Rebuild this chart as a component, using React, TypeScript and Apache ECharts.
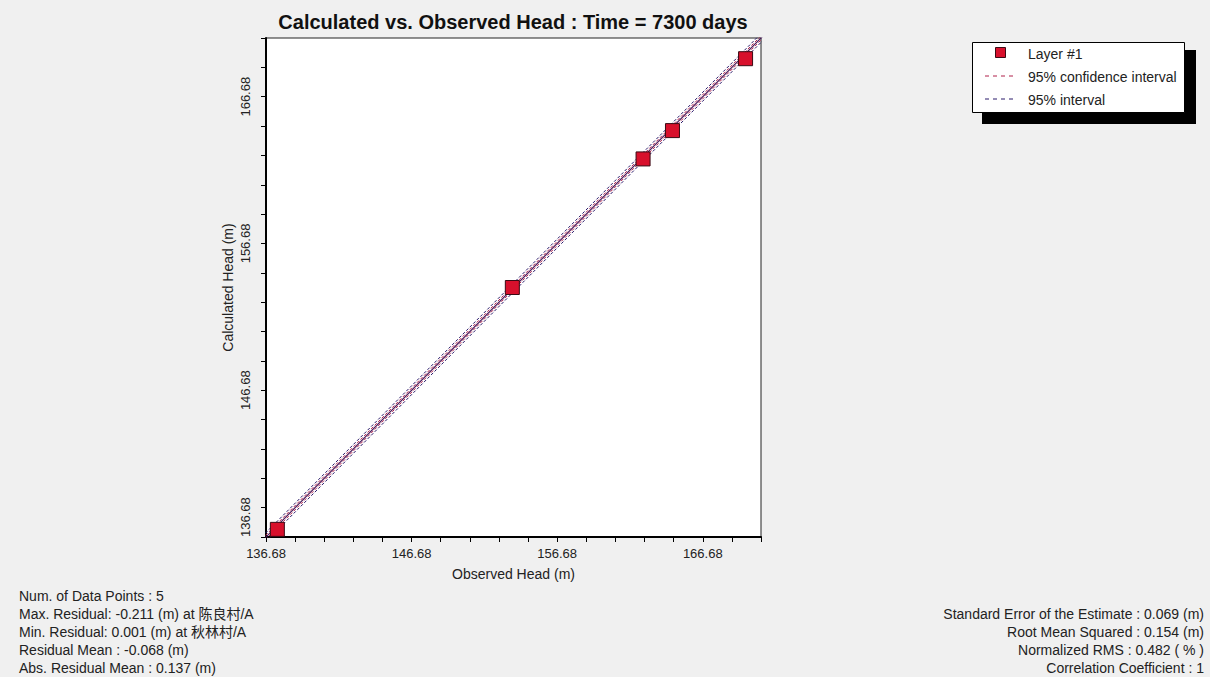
import React, { useEffect, useRef } from "react";
import * as echarts from "echarts";

// ---- data ----
const OBSERVED = [137.46, 153.6, 162.58, 164.6, 169.62];
const CALCULATED = [137.2, 153.68, 162.44, 164.37, 169.27];
const AXIS_MIN = 136.68;
const AXIS_MAX = 170.68;
const TICK_STEP = 2;
const LABEL_EVERY = 5; // label every 5th tick (10 m)
const CONF_OFFSET = 0.14;
const INTERVAL_OFFSET = 0.3;
const TITLE = "Calculated vs. Observed Head : Time = 7300 days";
const X_NAME = "Observed Head (m)";
const Y_NAME = "Calculated Head (m)";
const LEGEND_ITEMS = ["Layer #1", "95% confidence interval", "95% interval"];
const LEFT_STATS = [
  "Num. of Data Points : 5",
  "Max. Residual: -0.211 (m) at 陈良村/A",
  "Min. Residual: 0.001 (m) at 秋林村/A",
  "Residual Mean : -0.068 (m)",
  "Abs. Residual Mean : 0.137 (m)",
];
const RIGHT_STATS = [
  "Standard Error of the Estimate : 0.069 (m)",
  "Root Mean Squared : 0.154 (m)",
  "Normalized RMS : 0.482 ( % )",
  "Correlation Coefficient : 1",
];

const FONT = "Liberation Sans, Arial, 'Noto Sans CJK SC', sans-serif";
const RED = "#d8102c";
const CENTER_COLOR = "#4a1a5a";
const CONF_COLOR = "#b0204a";
const INT_COLOR = "#2a1a6a";

const tickFormatter = (v: number) => {
  const k = Math.round((v - AXIS_MIN) / TICK_STEP);
  return k % LABEL_EVERY === 0 ? v.toFixed(2) : "";
};

const lineData = (off: number) => [
  [AXIS_MIN - 1, AXIS_MIN - 1 + off],
  [AXIS_MAX + 1, AXIS_MAX + 1 + off],
];

export default function App() {
  const ref = useRef<HTMLDivElement>(null);
  useEffect(() => {
    document.body.style.margin = "0";
    const chart = echarts.init(ref.current!, undefined, { renderer: "svg" });
    const axisCommon = {
      type: "value",
      min: AXIS_MIN,
      max: AXIS_MAX,
      interval: TICK_STEP,
      splitLine: { show: false },
      axisLine: { show: true, onZero: false, lineStyle: { color: "#000", width: 2 } },
      axisTick: { show: true, inside: false, length: 5, lineStyle: { color: "#000", width: 1 } },
      nameLocation: "middle",
      nameTextStyle: { fontFamily: FONT, fontSize: 14, color: "#222" },
    };
    const legendY = [53, 76, 99];
    const dashed = (color: string) => ({ color, width: 1, type: [3, 2] });
    chart.setOption({
      animation: false,
      backgroundColor: "#f0f0f0",
      title: {
        text: TITLE,
        left: 513,
        top: 12,
        padding: 0,
        textAlign: "center",
        textStyle: { fontFamily: FONT, fontSize: 20, fontWeight: "bold", color: "#111" },
      },
      grid: {
        left: 266,
        top: 38,
        width: 495,
        height: 499,
        show: true,
        backgroundColor: "#fff",
        borderColor: "#222",
        borderWidth: 1,
        containLabel: false,
        outerBoundsMode: "none",
      },
      xAxis: {
        ...axisCommon,
        name: X_NAME,
        nameGap: 30,
        axisLabel: {
          formatter: tickFormatter,
          margin: 10,
          fontFamily: FONT,
          fontSize: 13,
          color: "#222",
          showMaxLabel: true,
        },
      },
      yAxis: {
        ...axisCommon,
        name: Y_NAME,
        nameGap: 31,
        axisLabel: {
          formatter: tickFormatter,
          rotate: 90,
          margin: 14,
          fontFamily: FONT,
          fontSize: 13,
          color: "#222",
          alignMinLabel: "left",
        },
      },
      series: [
        { type: "line", data: lineData(0), symbol: "none", lineStyle: { color: CENTER_COLOR, width: 1.2 }, z: 2 },
        { type: "line", data: lineData(CONF_OFFSET), symbol: "none", lineStyle: dashed(CONF_COLOR), z: 2 },
        { type: "line", data: lineData(-CONF_OFFSET), symbol: "none", lineStyle: dashed(CONF_COLOR), z: 2 },
        { type: "line", data: lineData(INTERVAL_OFFSET), symbol: "none", lineStyle: dashed(INT_COLOR), z: 2 },
        { type: "line", data: lineData(-INTERVAL_OFFSET), symbol: "none", lineStyle: dashed(INT_COLOR), z: 2 },
        {
          type: "scatter",
          data: OBSERVED.map((x, i) => [x, CALCULATED[i]]),
          symbol: "rect",
          symbolSize: 14,
          itemStyle: { color: RED, borderColor: "#3a0a14", borderWidth: 1, opacity: 1 },
          z: 5,
        },
      ],
      graphic: [
        { type: "rect", shape: { x: 982, y: 50, width: 214, height: 74 }, style: { fill: "#000" }, z: 10 },
        {
          type: "rect",
          shape: { x: 972.5, y: 42.5, width: 212, height: 70 },
          style: { fill: "#fff", stroke: "#000", lineWidth: 1 },
          z: 11,
        },
        {
          type: "rect",
          shape: { x: 995.5, y: 47.5, width: 10, height: 10 },
          style: { fill: RED, stroke: "#3a0a14", lineWidth: 1 },
          z: 12,
        },
        {
          type: "line",
          shape: { x1: 985, y1: legendY[1], x2: 1014, y2: legendY[1] },
          style: { stroke: CONF_COLOR, lineWidth: 1, lineDash: [4, 4] },
          z: 12,
        },
        {
          type: "line",
          shape: { x1: 985, y1: legendY[2], x2: 1014, y2: legendY[2] },
          style: { stroke: INT_COLOR, lineWidth: 1, lineDash: [4, 4] },
          z: 12,
        },
        ...LEGEND_ITEMS.map((t, i) => ({
          type: "text",
          x: 1028,
          y: legendY[i] + 1,
          z: 12,
          style: {
            text: t,
            font: `14px ${FONT}`,
            fill: "#222",
            align: "left",
            verticalAlign: "middle",
          },
        })),
        ...LEFT_STATS.map((t, i) => ({
          type: "text",
          x: 19,
          y: 596 + i * 18,
          style: {
            text: t,
            font: `14px ${FONT}`,
            fill: "#222",
            align: "left",
            verticalAlign: "middle",
          },
        })),
        ...RIGHT_STATS.map((t, i) => ({
          type: "text",
          x: 1204,
          y: 614 + i * 18,
          style: {
            text: t,
            font: `14px ${FONT}`,
            fill: "#222",
            align: "right",
            verticalAlign: "middle",
          },
        })),
      ],
    });
    return () => chart.dispose();
  }, []);
  return <div ref={ref} style={{ width: 1210, height: 677 }} />;
}
